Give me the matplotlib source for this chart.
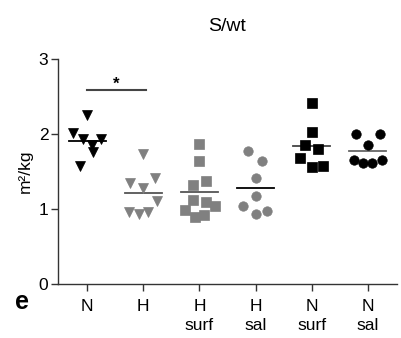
import numpy as np
import matplotlib
matplotlib.use("Agg")
import matplotlib.pyplot as plt

plt.rcParams['font.family'] = ['Liberation Sans', 'DejaVu Sans']
narrow = ['Liberation Sans Narrow', 'Liberation Sans', 'DejaVu Sans']

# data (m2/kg)
groups = ['N', 'H', 'H\nsurf', 'H\nsal', 'N\nsurf', 'N\nsal']
n_vals = [2.26, 2.02, 1.93, 1.94, 1.85, 1.76, 1.57]
h_vals = [1.74, 1.35, 1.28, 1.41, 1.11, 0.96, 0.93, 0.96]
h_surf_vals = [1.87, 1.64, 1.32, 1.38, 1.12, 1.09, 1.04, 0.99, 0.90, 0.92]
h_sal_vals = [1.77, 1.64, 1.42, 1.17, 1.04, 0.93, 0.98]
n_surf_vals = [2.41, 2.03, 1.85, 1.80, 1.68, 1.56, 1.57]
n_sal_vals = [2.00, 2.00, 1.86, 1.65, 1.61, 1.62, 1.66]

# horizontal scatter offsets (layout only)
n_off = [0, -0.25, -0.08, 0.25, 0.08, 0.11, -0.12]
h_off = [0, -0.23, 0, 0.21, 0.25, -0.26, -0.08, 0.08]
h_surf_off = [0, 0, -0.11, 0.12, -0.11, 0.12, 0.27, -0.25, -0.07, 0.08]
h_sal_off = [-0.14, 0.11, 0, 0, -0.23, 0, 0.2]
n_surf_off = [0, 0, -0.12, 0.12, -0.21, 0, 0.21]
n_sal_off = [-0.21, 0.21, 0, -0.25, -0.08, 0.08, 0.25]

all_vals = [n_vals, h_vals, h_surf_vals, h_sal_vals, n_surf_vals, n_sal_vals]
all_off = [n_off, h_off, h_surf_off, h_sal_off, n_surf_off, n_sal_off]
markers = ['v', 'v', 's', 'o', 's', 'o']
msizes = [7.5, 7.5, 7.2, 6.8, 7.2, 6.8]
colors = ['black', '#808080', '#808080', '#808080', 'black', 'black']
mean_colors = ['black', '#555555', '#555555', 'black', '#444444', '#666666']

fig = plt.figure(figsize=(4.01, 3.38), dpi=100)
ax = fig.add_axes([0.1446, 0.1598, 0.8454, 0.6648])

for i, vals in enumerate(all_vals):
    x = i + np.array(all_off[i])
    ax.plot(x, vals, linestyle='none', marker=markers[i], ms=msizes[i],
            color=colors[i], mec=colors[i], mew=0.5, zorder=3)
    m = np.mean(vals)
    ax.plot([i - 0.33, i + 0.33], [m, m], color=mean_colors[i], lw=1.3, zorder=2)

# significance bar
ax.plot([0, 1.04], [2.59, 2.59], color='#444444', lw=1.5)
ax.text(0.52, 2.57, '*', ha='center', va='bottom', fontsize=12, fontweight='bold')

ax.set_xlim(-0.52, 5.52)
ax.set_ylim(0, 3)
ax.set_yticks([0, 1, 2, 3])
ax.set_xticks(range(len(groups)))
ax.set_xticklabels(groups, fontsize=12.5, family=narrow, linespacing=1.3, va='top')
for lab in ax.get_yticklabels():
    lab.set_family(narrow)
    lab.set_fontsize(12.5)
ax.tick_params(axis='y', length=5, width=1, color='#333333', pad=2)
ax.tick_params(axis='x', length=5, width=1, color='#333333', pad=6)
for s in ['top', 'right']:
    ax.spines[s].set_visible(False)
for s in ['left', 'bottom']:
    ax.spines[s].set_color('#333333')
    ax.spines[s].set_linewidth(1)
ax.set_ylabel('m²/kg', fontsize=12.5, family=narrow, labelpad=4)

fig.text(0.567, 1 - 30.7 / 338, 'S/wt', ha='center', va='baseline', fontsize=14)
fig.text(22 / 401, 1 - 309 / 338, 'e', ha='center', va='baseline', fontsize=18, fontweight='bold')

fig.savefig('out.png', dpi=100)
